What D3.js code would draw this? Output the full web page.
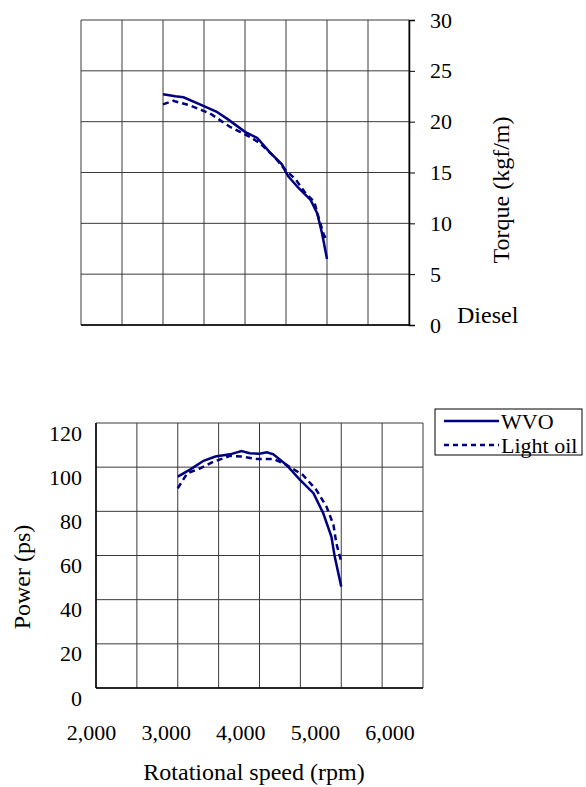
<!DOCTYPE html>
<html>
<head>
<meta charset="utf-8">
<script src="https://cdn.jsdelivr.net/npm/d3@7"></script>
<style>
  body { margin: 0; background: #fff; }
  svg { display: block; }
  text { font-family: "Liberation Serif", "DejaVu Serif", serif; }
</style>
</head>
<body>
<svg id="chart" width="586" height="787"></svg>
<script>
// ---------- data ----------
const seriesNames = ["WVO", "Light oil"];

const wvoTorqueRpm = [3000, 3150, 3250, 3450, 3650, 3780, 4000, 4150, 4300, 4450, 4500, 4530, 4650, 4800, 4880, 4940, 5000];
const wvoTorque    = [22.7, 22.5, 22.4, 21.7, 21.0, 20.3, 19.0, 18.4, 17.0, 15.8, 15.0, 14.6, 13.5, 12.3, 11.0, 9.0, 6.5];

const oilTorqueRpm = [3000, 3125, 3330, 3575, 3815, 3940, 4060, 4180, 4350, 4500, 4620, 4725, 4845, 4900, 4960, 5000];
const oilTorque    = [21.7, 22.05, 21.6, 20.8, 19.5, 19.0, 18.5, 17.9, 16.6, 15.2, 14.3, 13.1, 12.1, 10.5, 8.9, 8.3];

const wvoPowerRpm = [3000, 3155, 3316, 3460, 3640, 3780, 3880, 4000, 4090, 4170, 4330, 4490, 4660, 4780, 4880, 4920, 5000];
const wvoPower    = [95.7, 99.0, 102.9, 104.8, 105.8, 107.3, 106.3, 106.1, 106.7, 105.8, 101.0, 94.5, 88.2, 79.1, 68.5, 59.5, 45.9];

const oilPowerRpm = [3000, 3115, 3275, 3440, 3640, 3780, 3970, 4170, 4330, 4530, 4695, 4820, 4905, 4940, 5000];
const oilPower    = [90.4, 97.2, 99.5, 102.5, 105.1, 104.8, 103.7, 103.7, 101.0, 96.5, 89.7, 82.1, 73.8, 65.5, 57.2];

const rpmGrid = [2000, 2500, 3000, 3500, 4000, 4500, 5000, 5500, 6000];
const torqueTicks = [0, 5, 10, 15, 20, 25, 30];
const powerTicks = [0, 20, 40, 60, 80, 100, 120];
const xTickLabels = ["2,000", "3,000", "4,000", "5,000", "6,000"];

// ---------- setup ----------
const FONT = "Liberation Serif, DejaVu Serif, serif";
const svg = d3.select("#chart");
const navy = "#000080";
const gridColor = "#3a3a3a";
const fontTick = 22, fontTitle = 24;

// top (torque) chart
const xT = d3.scaleLinear().domain([2000, 6000]).range([81, 409]);
const yT = d3.scaleLinear().domain([0, 30]).range([325, 20]);

// bottom (power) chart
const xP = d3.scaleLinear().domain([2000, 6000]).range([96, 423]);
const yP = d3.scaleLinear().domain([0, 120]).range([688, 423]);

// ---- torque chart ----
const gT = svg.append("g");
gT.append("g").selectAll("line").data(rpmGrid).join("line")
  .attr("x1", d => xT(d)).attr("x2", d => xT(d))
  .attr("y1", yT(0)).attr("y2", yT(30))
  .attr("stroke", gridColor).attr("stroke-width", 1);
gT.append("g").selectAll("line").data(torqueTicks).join("line")
  .attr("y1", d => yT(d)).attr("y2", d => yT(d))
  .attr("x1", xT(2000)).attr("x2", xT(6000))
  .attr("stroke", gridColor).attr("stroke-width", 1);
gT.append("line").attr("x1", xT(2000)).attr("x2", xT(6000)).attr("y1", yT(0)).attr("y2", yT(0))
  .attr("stroke", "#000").attr("stroke-width", 1.5);

// right axis
const axT = d3.axisRight(yT).tickValues(torqueTicks).tickSize(6).tickPadding(15).tickFormat(d3.format("d"));
const gAxT = gT.append("g").attr("transform", `translate(${xT(6000)},0)`).call(axT);
gAxT.attr("font-family", FONT);
gAxT.select(".domain").attr("stroke", "#000").attr("stroke-width", 1.5);
gAxT.selectAll(".tick line").attr("stroke", "#000");
gAxT.selectAll(".tick text").attr("font-family", FONT).attr("font-size", fontTick).attr("fill", "#000");

const lineT = (xs, ys) => d3.line().x((d, i) => xT(xs[i])).y((d, i) => yT(ys[i]))(ys);

gT.append("path").attr("d", lineT(oilTorqueRpm, oilTorque))
  .attr("fill", "none").attr("stroke", navy).attr("stroke-width", 2.5).attr("stroke-dasharray", "6,4");
gT.append("path").attr("d", lineT(wvoTorqueRpm, wvoTorque))
  .attr("fill", "none").attr("stroke", navy).attr("stroke-width", 2.5);

// torque title
svg.append("text")
  .attr("transform", `translate(501,190) rotate(-90)`)
  .attr("text-anchor", "middle").attr("dominant-baseline", "central")
  .attr("font-family", FONT).attr("font-size", fontTitle).text("Torque (kgf/m)");
svg.append("text").attr("x", 457).attr("y", 323)
  .attr("font-family", FONT).attr("font-size", fontTitle).text("Diesel");

// ---- power chart ----
const gP = svg.append("g");
gP.append("g").selectAll("line").data(rpmGrid).join("line")
  .attr("x1", d => xP(d)).attr("x2", d => xP(d))
  .attr("y1", yP(0)).attr("y2", yP(120))
  .attr("stroke", gridColor).attr("stroke-width", 1);
gP.append("g").selectAll("line").data(powerTicks).join("line")
  .attr("y1", d => yP(d)).attr("y2", d => yP(d))
  .attr("x1", xP(2000)).attr("x2", xP(6000))
  .attr("stroke", gridColor).attr("stroke-width", 1);
gP.append("line").attr("x1", xP(2000)).attr("x2", xP(2000)).attr("y1", yP(0)).attr("y2", yP(120))
  .attr("stroke", "#000").attr("stroke-width", 1.5);
gP.append("line").attr("x1", xP(2000)).attr("x2", xP(6000)).attr("y1", yP(0)).attr("y2", yP(0))
  .attr("stroke", "#000").attr("stroke-width", 1.5);

// y tick labels (offset below grid line as in reference)
gP.append("g").selectAll("text").data(powerTicks).join("text")
  .attr("x", 82).attr("y", d => yP(d) + 10)
  .attr("text-anchor", "end").attr("dominant-baseline", "central")
  .attr("font-family", FONT).attr("font-size", fontTick).text(d => d);

// x tick labels
const xLab = d3.scalePoint().domain(xTickLabels).range([91.5, 390]);
gP.append("g").selectAll("text").data(xTickLabels).join("text")
  .attr("x", d => xLab(d)).attr("y", 740)
  .attr("text-anchor", "middle").attr("font-family", FONT).attr("font-size", fontTick).text(d => d);

const lineP = (xs, ys) => d3.line().x((d, i) => xP(xs[i])).y((d, i) => yP(ys[i]))(ys);
gP.append("path").attr("d", lineP(oilPowerRpm, oilPower))
  .attr("fill", "none").attr("stroke", navy).attr("stroke-width", 2.5).attr("stroke-dasharray", "6,4");
gP.append("path").attr("d", lineP(wvoPowerRpm, wvoPower))
  .attr("fill", "none").attr("stroke", navy).attr("stroke-width", 2.5);

// titles
svg.append("text").attr("x", 254).attr("y", 780).attr("text-anchor", "middle")
  .attr("font-family", FONT).attr("font-size", fontTitle).text("Rotational speed (rpm)");
svg.append("text")
  .attr("transform", `translate(22,577) rotate(-90)`)
  .attr("text-anchor", "middle").attr("dominant-baseline", "central")
  .attr("font-family", FONT).attr("font-size", fontTitle).text("Power (ps)");

// ---- legend ----
const lg = svg.append("g");
lg.append("rect").attr("x", 435).attr("y", 409).attr("width", 147).attr("height", 46)
  .attr("fill", "#fff").attr("stroke", "#000").attr("stroke-width", 1);
const legY = d3.scalePoint().domain(seriesNames).range([421, 445]);
lg.selectAll("line").data(seriesNames).join("line")
  .attr("x1", 444).attr("x2", 499)
  .attr("y1", d => legY(d)).attr("y2", d => legY(d))
  .attr("stroke", navy).attr("stroke-width", 2.5)
  .attr("stroke-dasharray", d => d === "Light oil" ? "5,4" : null);
lg.selectAll("text").data(seriesNames).join("text")
  .attr("x", 501).attr("y", d => legY(d))
  .attr("dominant-baseline", "central")
  .attr("font-family", FONT).attr("font-size", 22).text(d => d);
</script>
</body>
</html>
